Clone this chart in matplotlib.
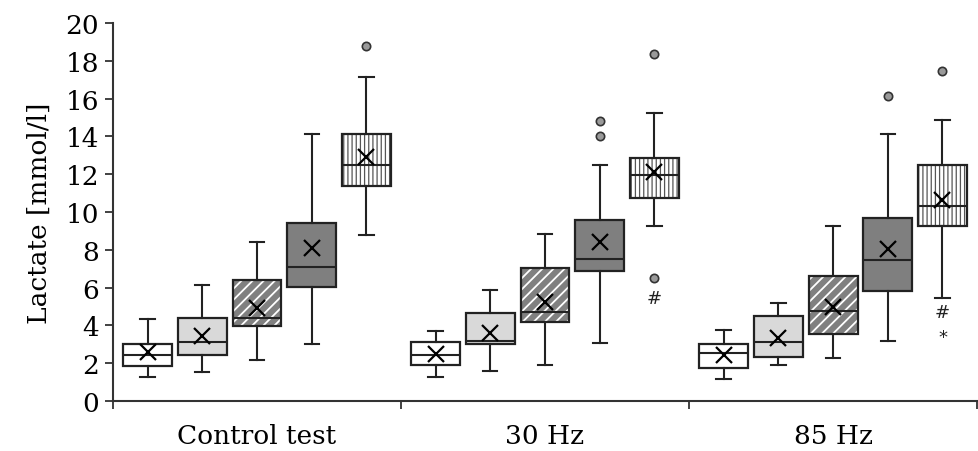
import numpy as np
import matplotlib.pyplot as plt
from matplotlib.patches import PathPatch

groups = ["Control test", "30 Hz", "85 Hz"]

# five boxes per group
whis_lo = [[1.25, 1.55, 2.17, 3.02, 8.78],
           [1.25, 1.60, 1.92, 3.07, 9.28],
           [1.16, 1.92, 2.29, 3.19, 5.47]]
q1 = [[1.83, 2.43, 3.98, 6.05, 11.37],
      [1.90, 3.02, 4.20, 6.86, 10.73],
      [1.73, 2.35, 3.54, 5.84, 9.28]]
med = [[2.43, 3.10, 4.41, 7.11, 12.48],
       [2.43, 3.17, 4.73, 7.51, 11.97],
       [2.52, 3.10, 4.78, 7.46, 10.33]]
q3 = [[3.02, 4.41, 6.39, 9.43, 14.14],
      [3.14, 4.67, 7.05, 9.59, 12.84],
      [3.02, 4.48, 6.60, 9.66, 12.50]]
whis_hi = [[4.34, 6.14, 8.39, 14.10, 17.15],
           [3.68, 5.89, 8.84, 12.50, 15.26],
           [3.76, 5.19, 9.28, 14.10, 14.88]]
means = [[2.57, 3.42, 4.90, 8.11, 12.90],
         [2.49, 3.60, 5.26, 8.39, 12.13],
         [2.43, 3.32, 4.99, 8.04, 10.65]]
fliers = [[[], [], [], [], [18.8]],
          [[], [], [], [14.83, 14.04], [18.37, 6.51]],
          [[], [], [], [16.15], [17.44]]]
# (group, box, symbol, y)
marks = [(1, 4, "#", 5.47), (2, 4, "#", 4.69), (2, 4, "*", 3.37)]

faces = ["white", "#d9d9d9", "#808080", "#7f7f7f", "white"]
hatches = [None, None, "///", None, "||||"]
edge = "#222222"
fs = 19

plt.rcParams['hatch.linewidth'] = 1.3

fig = plt.figure(figsize=(9.79, 4.52), dpi=100)
ax = fig.add_axes([0.1154, 0.1106, 0.8826, 0.8364])

step = 0.19
width = 0.17
stats = []
positions = []
styles = []
for g in range(3):
    for i in range(5):
        stats.append(dict(whislo=whis_lo[g][i], q1=q1[g][i], med=med[g][i],
                          q3=q3[g][i], whishi=whis_hi[g][i], mean=means[g][i],
                          fliers=fliers[g][i]))
        positions.append(g + 0.5 + (i - 2) * step)
        styles.append(i)

bp = ax.bxp(stats, positions=positions, widths=width, capwidths=0.05,
            patch_artist=True, showmeans=True, manage_ticks=False,
            boxprops=dict(linewidth=1.6, edgecolor=edge),
            whiskerprops=dict(color=edge, linewidth=1.5),
            capprops=dict(color=edge, linewidth=1.5),
            medianprops=dict(color=edge, linewidth=1.5),
            meanprops=dict(marker="x", markersize=12, markeredgewidth=1.6,
                           markeredgecolor="black"),
            flierprops=dict(marker="o", markersize=6, markerfacecolor="#9a9a9a",
                            markeredgecolor="#333333", markeredgewidth=1.2))

for p, i in zip(bp["boxes"], styles):
    p.set_facecolor(faces[i])
    if hatches[i]:
        # hatch drawn in its own colour, outline added on top
        p.set_edgecolor("white" if i == 2 else "#555555")
        p.set_hatch(hatches[i])
        p.set_linewidth(0)
        if i == 4 and hasattr(p, "set_hatch_linewidth"):
            p.set_hatch_linewidth(0.9)
        ax.add_patch(PathPatch(p.get_path(), fill=False, edgecolor=edge,
                               linewidth=1.6, zorder=2.05))

for g, i, s, y in marks:
    ax.text(g + 0.5 + (i - 2) * step, y, s, ha="center", va="center",
            fontsize=13, color="#222222")

ax.set_ylim(0, 20)
ax.set_xlim(0, 3)
ax.set_yticks(np.arange(0, 21, 2))
ax.set_xticks([0, 1, 2, 3])
ax.set_xticklabels([])
ax.set_xticks([0.5, 1.5, 2.5], minor=True)
ax.set_xticklabels(groups, minor=True, fontsize=fs, family="DejaVu Serif")
ax.tick_params(axis="x", which="minor", length=0, pad=16)
ax.tick_params(axis="x", which="major", length=6, width=1.3, color="#333333")
ax.tick_params(axis="y", length=6, width=1.3, color="#333333", pad=4)
for lbl in ax.get_yticklabels():
    lbl.set_family("DejaVu Serif")
    lbl.set_fontsize(fs)
ax.set_ylabel("Lactate [mmol/l]", fontsize=fs, family="DejaVu Serif", labelpad=10)

for s in ["top", "right"]:
    ax.spines[s].set_visible(False)
for s in ["left", "bottom"]:
    ax.spines[s].set_color("#333333")
    ax.spines[s].set_linewidth(1.5)

fig.savefig("out.png", dpi=100)
